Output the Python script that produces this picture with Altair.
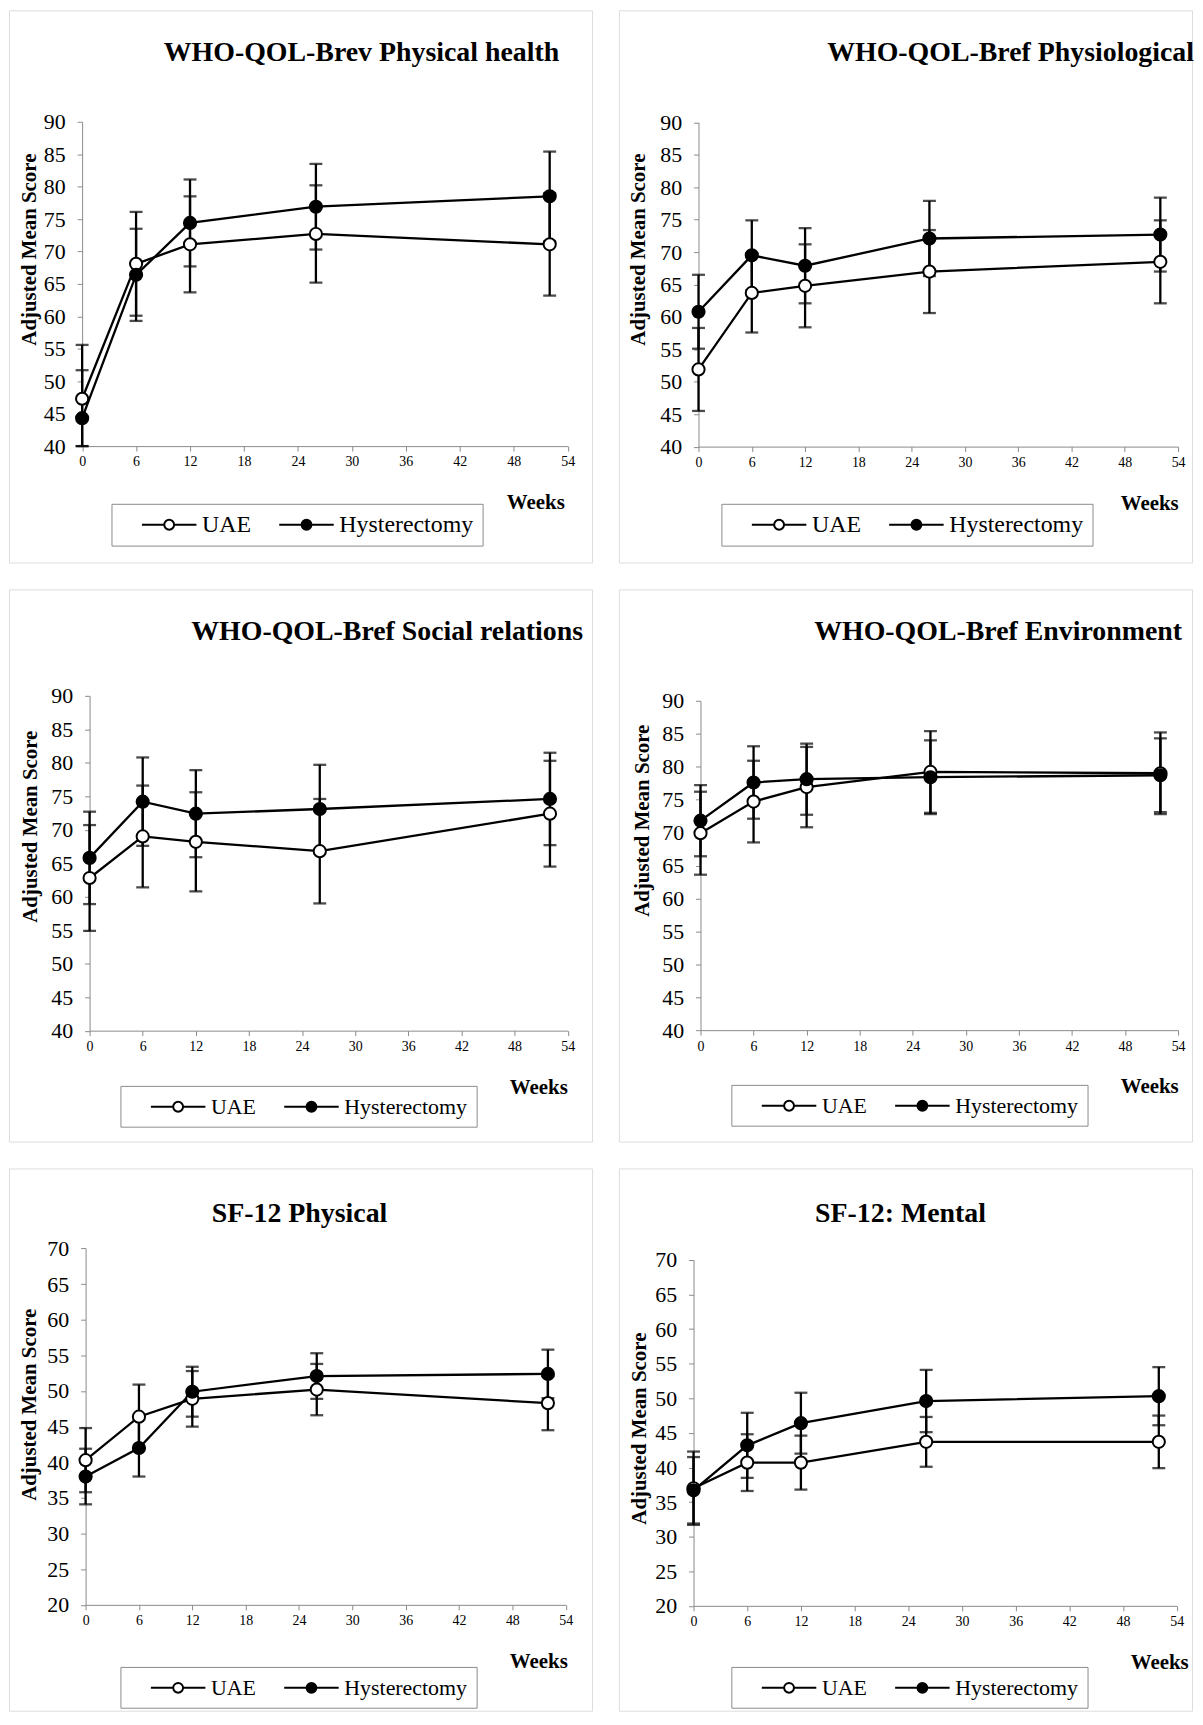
import altair as alt
import pandas as pd

# ---------------- data ----------------
weeks = [0, 6, 12, 26, 52]
group_names = ["UAE", "Hysterectomy"]
x_tick_values = [0, 6, 12, 18, 24, 30, 36, 42, 48, 54]

panel_titles = [
    "WHO-QOL-Brev Physical health",
    "WHO-QOL-Bref Physiological",
    "WHO-QOL-Bref Social relations",
    "WHO-QOL-Bref Environment",
    "SF-12 Physical",
    "SF-12: Mental",
]
y_axis_titles = [
    "Adjusted Mean  Score",
    "Adjusted Mean Score",
    "Adjusted Mean Score",
    "Adjusted Mean Score",
    "Adjusted Mean Score",
    "Adjusted Mean Score",
]
y_domains = [[40, 90], [40, 90], [40, 90], [40, 90], [20, 70], [20, 70]]

# WHO-QOL-Brev Physical health
phys_uae_mean = [47.3, 68.1, 71.1, 72.7, 71.1]
phys_uae_err = [8.3, 8.0, 7.4, 7.5, 7.9]
phys_hyst_mean = [44.3, 66.4, 74.4, 76.9, 78.5]
phys_hyst_err = [7.4, 7.1, 6.7, 6.6, 6.9]

# WHO-QOL-Bref Physiological
psy_uae_mean = [51.9, 63.7, 64.8, 67.0, 68.5]
psy_uae_err = [6.4, 6.1, 6.4, 6.4, 6.4]
psy_hyst_mean = [60.8, 69.5, 67.9, 72.1, 72.7]
psy_hyst_err = [5.7, 5.4, 5.8, 5.8, 5.7]

# WHO-QOL-Bref Social relations
soc_uae_mean = [62.8, 69.0, 68.2, 66.8, 72.4]
soc_uae_err = [7.9, 7.6, 7.4, 7.8, 7.9]
soc_hyst_mean = [65.8, 74.2, 72.4, 73.1, 74.6]
soc_hyst_err = [6.9, 6.6, 6.5, 6.6, 6.9]

# WHO-QOL-Bref Environment
env_uae_mean = [69.9, 74.7, 76.9, 79.2, 79.0]
env_uae_err = [6.3, 6.2, 6.1, 6.2, 6.2]
env_hyst_mean = [71.8, 77.6, 78.1, 78.4, 78.7]
env_hyst_err = [5.4, 5.5, 5.4, 5.6, 5.6]

# SF-12 Physical
sfp_uae_mean = [40.3, 46.4, 48.9, 50.2, 48.3]
sfp_uae_err = [4.5, 4.5, 3.9, 3.6, 3.8]
sfp_hyst_mean = [38.0, 42.0, 49.9, 52.1, 52.4]
sfp_hyst_err = [3.9, 4.0, 3.5, 3.2, 3.4]

# SF-12: Mental
sfm_uae_mean = [37.0, 40.7, 40.7, 43.7, 43.7]
sfm_uae_err = [5.3, 4.1, 3.9, 3.6, 3.8]
sfm_hyst_mean = [36.7, 43.2, 46.4, 49.6, 50.3]
sfm_hyst_err = [4.8, 4.7, 4.4, 4.5, 4.2]

panel_series = [
    (phys_uae_mean, phys_uae_err, phys_hyst_mean, phys_hyst_err),
    (psy_uae_mean, psy_uae_err, psy_hyst_mean, psy_hyst_err),
    (soc_uae_mean, soc_uae_err, soc_hyst_mean, soc_hyst_err),
    (env_uae_mean, env_uae_err, env_hyst_mean, env_hyst_err),
    (sfp_uae_mean, sfp_uae_err, sfp_hyst_mean, sfp_hyst_err),
    (sfm_uae_mean, sfm_uae_err, sfm_hyst_mean, sfm_hyst_err),
]

# ---------------- layout / style ----------------
FONT = "Liberation Serif"
AXIS_GRAY = "#8a8a8a"
BOX_GRAY = "#a6a6a6"

# per panel: size, x range, y range (bottom, top), title anchor/dx/offset,
# y-title x/y, weeks x, legend x/y, legend font size
layout = [
    dict(w=586, h=555, xr=[73.5, 561.5], yr=[438, 112], anchor="end", dx=-33,
         toff=-79, ytx=27, yty=240, wx=529, lx=103, ly=496, lfs=24),
    dict(w=576, h=555, xr=[80, 562], yr=[438.5, 112.7], anchor="end", dx=2,
         toff=-79, ytx=26, yty=240, wx=533, lx=103, ly=496, lfs=24),
    dict(w=586, h=555, xr=[81, 561.5], yr=[443.5, 107], anchor="end", dx=-9,
         toff=-79, ytx=28, yty=238, wx=532, lx=112, ly=499, lfs=22),
    dict(w=576, h=555, xr=[82, 562], yr=[443, 112], anchor="end", dx=-10,
         toff=-79, ytx=30, yty=232, wx=533, lx=113, ly=498, lfs=22),
    dict(w=586, h=545, xr=[77, 559.5], yr=[438.6, 80.4], anchor="middle",
         dx=-1, toff=-82, ytx=27, yty=237, wx=532, lx=112, ly=501, lfs=22),
    dict(w=576, h=545, xr=[75, 560.6], yr=[439.6, 91.9], anchor="middle",
         dx=-5, toff=-82, ytx=27, yty=261, wx=543, lx=113, ly=501, lfs=22),
]

# line - open/filled circle - line, drawn inside the legend symbol
LEGEND_SYMBOL = ("M-2.49,0H-0.45M0.45,0H2.49"
                 "M0.45,0A0.45,0.45,0,1,1,-0.45,0A0.45,0.45,0,1,1,0.45,0Z")


def make_panel(i):
    um, ue, hm, he = panel_series[i]
    L = layout[i]
    rows = []
    for g, means, errs in ((group_names[0], um, ue), (group_names[1], hm, he)):
        for w, m, e in zip(weeks, means, errs):
            rows.append({"week": w, "group": g, "mean": m,
                         "lo": m - e, "hi": m + e})
    df = pd.DataFrame(rows)

    ymin, ymax = y_domains[i]
    xscale = alt.Scale(domain=[0, 54], range=L["xr"], nice=False, zero=False)
    yscale = alt.Scale(domain=[ymin, ymax], range=L["yr"], nice=False,
                       zero=False, clamp=True)
    xaxis = alt.Axis(
        values=x_tick_values, title="Weeks", offset=-(L["h"] - L["yr"][0]),
        grid=False, domainColor=AXIS_GRAY, tickColor=AXIS_GRAY, tickSize=5,
        labelFont=FONT, labelFontSize=14, labelColor="black", labelPadding=4,
        labelFlush=False,
        titleFont=FONT, titleFontSize=21, titleFontWeight="bold",
        titleColor="black", titleX=L["wx"], titleY=63, titleAlign="center",
        titleBaseline="alphabetic",
    )
    yaxis = alt.Axis(
        values=list(range(ymin, ymax + 1, 5)), title=y_axis_titles[i],
        offset=-L["xr"][0], grid=False, domainColor=AXIS_GRAY,
        tickColor=AXIS_GRAY, tickSize=5, labelFont=FONT, labelFontSize=22,
        labelColor="black", labelPadding=12, labelFlush=False,
        titleFont=FONT, titleFontSize=21, titleFontWeight="bold",
        titleColor="black", titleAngle=270, titleX=L["ytx"] - L["xr"][0],
        titleY=L["yty"], titleAlign="center", titleBaseline="alphabetic",
    )
    X = alt.X("week:Q", scale=xscale, axis=xaxis)
    base = alt.Chart(df)

    bars = base.mark_errorbar(
        ticks={"size": 13, "thickness": 2.3, "color": "black"},
        thickness=2.3, color="black",
    ).encode(
        x=X,
        y=alt.Y("lo:Q", scale=yscale, axis=yaxis),
        y2="hi:Q",
        detail="group:N",
    )
    lines = base.mark_line(color="black", strokeWidth=2.3).encode(
        x=X,
        y=alt.Y("mean:Q", scale=yscale, axis=yaxis),
        detail="group:N",
    )
    points = base.mark_point(
        filled=True, size=150, stroke="black", strokeWidth=2, opacity=1,
    ).encode(
        x=X,
        y=alt.Y("mean:Q", scale=yscale, axis=yaxis),
        fill=alt.Fill(
            "group:N",
            scale=alt.Scale(domain=group_names, range=["white", "black"]),
            sort=group_names,
            legend=alt.Legend(
                title=None, orient="none", legendX=L["lx"], legendY=L["ly"],
                direction="horizontal", symbolType=LEGEND_SYMBOL,
                symbolSize=484, symbolStrokeColor="black",
                symbolStrokeWidth=2, symbolOffset=37, labelOffset=21,
                columnPadding=6, padding=9, labelFont=FONT,
                labelFontSize=L["lfs"], labelColor="black",
                strokeColor=AXIS_GRAY, fillColor="white",
            ),
        ),
    )
    title = alt.TitleParams(
        text=panel_titles[i], anchor=L["anchor"], frame="group", dx=L["dx"],
        offset=L["toff"], baseline="alphabetic", font=FONT, fontSize=28,
        fontWeight="bold", color="black",
    )
    return alt.layer(bars, lines, points).properties(
        width=L["w"], height=L["h"], title=title
    )


def row(a, b):
    return (
        alt.hconcat(make_panel(a), make_panel(b), spacing=25)
        .resolve_scale(fill="independent")
        .resolve_legend(fill="independent")
    )


chart = (
    alt.vconcat(row(0, 1), row(2, 3), row(4, 5), spacing=25)
    .resolve_scale(fill="independent")
    .resolve_legend(fill="independent")
    .properties(padding={"top": -3, "left": 0, "right": 0, "bottom": 0})
    .configure_view(stroke=BOX_GRAY, strokeWidth=1, fill="white")
    .configure(background="white")
)

chart.save("out.html", embed_options={"renderer": "svg", "actions": False})
